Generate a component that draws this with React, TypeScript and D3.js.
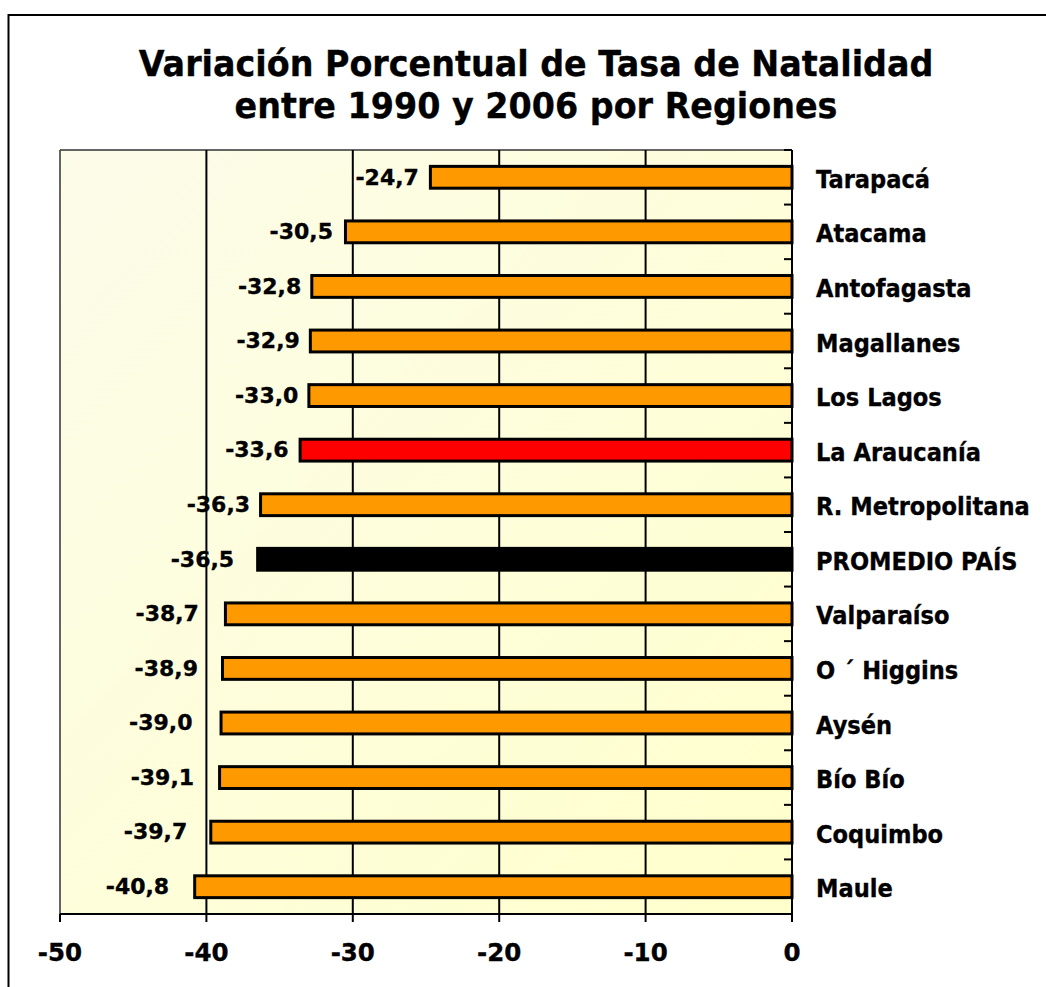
import React from "react";
import * as d3 from "d3";

const regions = [
  "Tarapacá",
  "Atacama",
  "Antofagasta",
  "Magallanes",
  "Los Lagos",
  "La Araucanía",
  "R. Metropolitana",
  "PROMEDIO PAÍS",
  "Valparaíso",
  "O ´ Higgins",
  "Aysén",
  "Bío Bío",
  "Coquimbo",
  "Maule",
];
const values = [-24.7, -30.5, -32.8, -32.9, -33.0, -33.6, -36.3, -36.5, -38.7, -38.9, -39.0, -39.1, -39.7, -40.8];
const xTicks = [-50, -40, -30, -20, -10, 0];
const titleLines = ["Variación Porcentual de Tasa de Natalidad", "entre 1990 y 2006 por Regiones"];

// pixel gap between bar end and its value label (label nudges as in the original)
const labelGaps = [10, 11, 9, 9, 9, 10, 9, 22, 25, 23, 27, 24, 22, 24];

const W = 1046;
const H = 987;
const left = 60;
const right = 792;
const top = 150;
const bottom = 914;
const FONT = "'DejaVu Sans', Verdana, sans-serif";

function barColor(name: string): string {
  if (name === "La Araucanía") return "#ff0000";
  if (name === "PROMEDIO PAÍS") return "#000000";
  return "#ff9900";
}

export default function App() {
  const x = d3.scaleLinear().domain([-50, 0]).range([left, right]);
  const y = d3.scaleBand<string>().domain(regions).range([top, bottom]).paddingInner(0.6).paddingOuter(0.3);
  const step = y.step();
  const bandEdges = d3.range(regions.length + 1).map((i) => top + i * step);
  const fmt = (v: number) => v.toFixed(1).replace(".", ",");
  const heavy = { stroke: "#000", strokeWidth: 0.35 };

  return (
    <svg
      width={W}
      height={H}
      style={{ position: "absolute", left: 0, top: 0, display: "block", background: "#ffffff" }}
    >
      <defs>
        <linearGradient id="bg" x1="0" y1="0" x2="1" y2="1">
          <stop offset="0%" stopColor="#fcfcea" />
          <stop offset="100%" stopColor="#ffffcc" />
        </linearGradient>
      </defs>
      {/* outer chart frame */}
      <rect x={8.5} y={15} width={1200} height={1200} fill="#ffffff" stroke="#000" strokeWidth={2} />
      {/* title */}
      {titleLines.map((t, i) => (
        <g key={t} transform={`translate(536,${76 + i * 42}) scale(0.94,1)`}>
          <text
            x={0}
            y={0}
            textAnchor="middle"
            fontFamily={FONT}
            fontWeight="bold"
            fontSize={35.5}
            fill="#000"
            {...heavy}
          >
            {t}
          </text>
        </g>
      ))}
      {/* plot area */}
      <rect x={left} y={top} width={right - left} height={bottom - top} fill="url(#bg)" />
      <line x1={left} y1={top} x2={right} y2={top} stroke="#333" strokeWidth={1.5} />
      <line x1={left} y1={top} x2={left} y2={bottom} stroke="#333" strokeWidth={1.5} />
      {/* gridlines */}
      {xTicks
        .filter((t) => t !== 0 && t !== -50)
        .map((t) => (
          <line key={t} x1={x(t)} x2={x(t)} y1={top} y2={bottom} stroke="#000" strokeWidth={2} />
        ))}
      {/* bars */}
      {regions.map((r, i) => {
        const v = values[i];
        return (
          <rect
            key={r}
            x={x(v)}
            y={y(r)!}
            width={x(0) - x(v)}
            height={y.bandwidth()}
            fill={barColor(r)}
            stroke="#000"
            strokeWidth={3}
          />
        );
      })}
      {/* value labels */}
      {regions.map((r, i) => (
        <text
          key={"l" + r}
          x={x(values[i]) - 1.5 - labelGaps[i]}
          y={y(r)! + y.bandwidth() / 2}
          dy="0.33em"
          textAnchor="end"
          fontFamily={FONT}
          fontWeight="bold"
          fontSize={22}
          fill="#000"
          {...heavy}
        >
          {fmt(values[i])}
        </text>
      ))}
      {/* y axis at zero */}
      <line x1={right} x2={right} y1={top} y2={bottom + 8} stroke="#000" strokeWidth={2} />
      {bandEdges.slice(0, -1).map((e, i) => (
        <line key={"t" + i} x1={right - 8} x2={right} y1={e} y2={e} stroke="#000" strokeWidth={2} />
      ))}
      {/* category labels */}
      {regions.map((r) => (
        <g key={"c" + r} transform={`translate(816,${y(r)! + y.bandwidth() / 2}) scale(0.94,1)`}>
          <text
            x={0}
            y={0}
            dy="0.44em"
            fontFamily={FONT}
            fontWeight="bold"
            fontSize={24}
            fill="#000"
            {...heavy}
          >
            {r}
          </text>
        </g>
      ))}
      {/* x axis */}
      <line x1={left} x2={right} y1={bottom} y2={bottom} stroke="#000" strokeWidth={2} />
      {xTicks.map((t) => (
        <g key={"x" + t}>
          <line x1={x(t)} x2={x(t)} y1={bottom} y2={bottom + 8} stroke="#000" strokeWidth={2} />
          <text
            x={x(t)}
            y={961}
            textAnchor="middle"
            fontFamily={FONT}
            fontWeight="bold"
            fontSize={24.5}
            fill="#000"
            {...heavy}
          >
            {t}
          </text>
        </g>
      ))}
    </svg>
  );
}
